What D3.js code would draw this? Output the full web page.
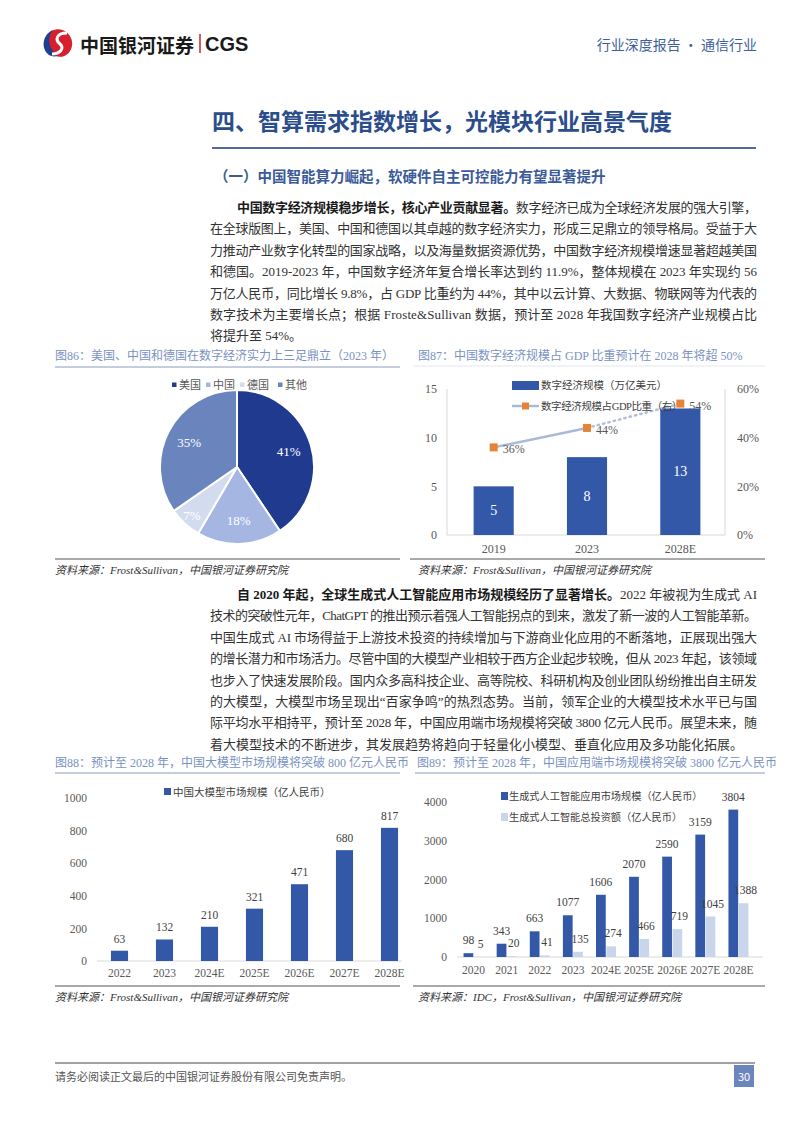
<!DOCTYPE html>
<html><head><meta charset="utf-8">
<script src="https://cdn.jsdelivr.net/npm/d3@7"></script>
<style>body{margin:0;background:#fff}svg{display:block}</style>
</head><body><svg id="page" width="794" height="1123"></svg>
<script>
// ---------- data ----------
const pieCategories = ["美国","中国","德国","其他"];
const pieValues = [41,18,7,35];
const fig87Years = ["2019","2023","2028E"];
const fig87Scale = [5,8,13];
const fig87Share = [36,44,54];
const fig87LeftTicks = [0,5,10,15];
const fig87RightTicks = [0,20,40,60];
const fig88Years = ["2022","2023","2024E","2025E","2026E","2027E","2028E"];
const fig88Values = [63,132,210,321,471,680,817];
const fig88Ticks = [0,200,400,600,800,1000];
const fig89Years = ["2020","2021","2022","2023","2024E","2025E","2026E","2027E","2028E"];
const fig89Market = [98,343,663,1077,1606,2070,2590,3159,3804];
const fig89Invest = [5,20,41,135,274,466,719,1045,1388];
const fig89Ticks = [0,1000,2000,3000,4000];

// ---------- text ----------
const para1 = [
 "**中国数字经济规模稳步增长，核心产业贡献显著。**数字经济已成为全球经济发展的强大引擎，",
 "在全球版图上，美国、中国和德国以其卓越的数字经济实力，形成三足鼎立的领导格局。受益于大",
 "力推动产业数字化转型的国家战略，以及海量数据资源优势，中国数字经济规模增速显著超越美国",
 "和德国。2019-2023 年，中国数字经济年复合增长率达到约 11.9%，整体规模在 2023 年实现约 56",
 "万亿人民币，同比增长 9.8%，占 GDP 比重约为 44%，其中以云计算、大数据、物联网等为代表的",
 "数字技术为主要增长点；根据 Froste&Sullivan 数据，预计至 2028 年我国数字经济产业规模占比",
 "将提升至 54%。"
];
const para2 = [
 "**自 2020 年起，全球生成式人工智能应用市场规模经历了显著增长。**2022 年被视为生成式 AI",
 "技术的突破性元年，ChatGPT 的推出预示着强人工智能拐点的到来，激发了新一波的人工智能革新。",
 "中国生成式 AI 市场得益于上游技术投资的持续增加与下游商业化应用的不断落地，正展现出强大",
 "的增长潜力和市场活力。尽管中国的大模型产业相较于西方企业起步较晚，但从 2023 年起，该领域",
 "也步入了快速发展阶段。国内众多高科技企业、高等院校、科研机构及创业团队纷纷推出自主研发",
 "的大模型，大模型市场呈现出“百家争鸣”的热烈态势。当前，领军企业的大模型技术水平已与国",
 "际平均水平相持平，预计至 2028 年，中国应用端市场规模将突破 3800 亿元人民币。展望未来，随",
 "着大模型技术的不断进步，其发展趋势将趋向于轻量化小模型、垂直化应用及多功能化拓展。"
];

const SANS = "'Noto Sans CJK SC','Noto Sans',sans-serif";
const BODY = "'Liberation Serif','Noto Sans CJK SC',serif";
const DARK = "#3358a8";
const LIGHT = "#c9d5ea";
const svg = d3.select("#page");
svg.append("rect").attr("width",794).attr("height",1123).attr("fill","#fff");

// ---------- header ----------
const logo = svg.append("g");
logo.append("ellipse").attr("cx",59).attr("cy",43).attr("rx",13).attr("ry",14)
  .attr("transform","rotate(-25 59 43)").attr("fill","#d6202e");
logo.append("path").attr("d","M49,55 C40,48 43,34 53,30 C47,37 48,47 57,56 C54,57 51,56 49,55 Z").attr("fill","#1f3f8f");
logo.append("path").attr("d","M67,33 C56,33 55,40 60,44 C65,48 60,54 52,54").attr("fill","none").attr("stroke","#fff").attr("stroke-width",3);
svg.append("text").attr("x",80).attr("y",44).attr("dominant-baseline","central")
  .attr("font-family",SANS).attr("font-weight",700).attr("font-size",19).attr("fill","#1a1a1a").text("中国银河证券");
svg.append("line").attr("x1",200).attr("x2",200).attr("y1",34).attr("y2",53).attr("stroke","#c0282d").attr("stroke-width",1.5);
svg.append("text").attr("x",205).attr("y",44).attr("dominant-baseline","central")
  .attr("font-family","'Liberation Sans',Arial,sans-serif").attr("font-weight",700).attr("font-size",20).attr("fill","#1a1a1a").text("CGS");
svg.append("text").attr("x",757).attr("y",44).attr("text-anchor","end").attr("dominant-baseline","central")
  .attr("font-family",SANS).attr("font-size",14).attr("fill","#3d5f9c").text("行业深度报告 · 通信行业");

// ---------- titles ----------
svg.append("text").attr("x",212).attr("y",120).attr("dominant-baseline","central")
  .attr("font-family",SANS).attr("font-weight",700).attr("font-size",23).attr("fill","#2b4d8c").text("四、智算需求指数增长，光模块行业高景气度");
svg.append("line").attr("x1",212).attr("x2",756).attr("y1",148).attr("y2",148).attr("stroke","#51699b").attr("stroke-width",2);
svg.append("text").attr("x",214).attr("y",175).attr("dominant-baseline","central")
  .attr("font-family",SANS).attr("font-weight",700).attr("font-size",14.5).attr("fill","#3a5a98").text("（一）中国智能算力崛起，软硬件自主可控能力有望显著提升");

function paragraph(lines, x0, xIndent, xRight, y0, lh){
  lines.forEach((ln,i)=>{
    const x = i===0 ? xIndent : x0;
    const t = svg.append("text").attr("x",x).attr("y",y0+i*lh).attr("dominant-baseline","central")
      .attr("font-family",BODY).attr("font-size",13).attr("fill","#333");
    const parts = ln.split("**");
    let n = 0;
    parts.forEach((p,k)=>{ if(!p) return; n += [...p].length;
      t.append("tspan").attr("font-weight", k%2===1?700:400).attr("fill",k%2===1?"#1a1a1a":"#333").text(p); });
    if (i < lines.length-1){
      const w = t.node().getComputedTextLength();
      t.attr("letter-spacing", (xRight - x - w)/(n-1));
    }
  });
}
paragraph(para1, 210, 237, 757, 207, 21.4);
paragraph(para2, 210, 237, 757, 594, 21.4);

// ---------- helpers ----------
function figTitle(x, y, text){
  svg.append("text").attr("x",x).attr("y",y).attr("dominant-baseline","central")
    .attr("font-family",BODY).attr("font-size",12).attr("fill","#7a92c2").text(text);
}
function source(x, y, text){
  svg.append("text").attr("x",x).attr("y",y).attr("dominant-baseline","central")
    .attr("font-family",BODY).attr("font-style","italic").attr("font-size",11).attr("fill","#333").text(text);
}
function hline(x1,x2,y,color,w){
  svg.append("line").attr("x1",x1).attr("x2",x2).attr("y1",y).attr("y2",y).attr("stroke",color).attr("stroke-width",w||1);
}
const fmt = d3.format("d");

// ---------- fig 86 pie ----------
figTitle(55, 356, "图86：美国、中国和德国在数字经济实力上三足鼎立（2023 年）");
hline(55, 400, 367, "#8a9bbd", 1);
const pieColors = ["#1f3a8f","#a4b6e1","#d3dcef","#6a84bd"];
const legG = svg.append("g").attr("font-family",BODY).attr("font-size",11).attr("fill","#595959");
const legX = [172, 206, 240, 278];
pieCategories.forEach((c,i)=>{
  legG.append("rect").attr("x",legX[i]).attr("y",382.5).attr("width",4.5).attr("height",4.5).attr("fill",pieColors[i]);
  legG.append("text").attr("x",legX[i]+7).attr("y",385).attr("dominant-baseline","central").text(c);
});
const R = 77;
const pieG = svg.append("g").attr("transform","translate(237,467)");
const pieData = d3.pie().sort(null).value(d=>d)(pieValues);
const arc = d3.arc().innerRadius(0).outerRadius(R);
pieG.selectAll("path").data(pieData).join("path").attr("d",arc)
  .attr("fill",(d,i)=>pieColors[i]).attr("stroke","#fff").attr("stroke-width",2);
pieG.selectAll("text").data(pieData).join("text")
  .attr("transform",d=>{ const r = d.data<10 ? R*0.86 : R*0.7; const a=(d.startAngle+d.endAngle)/2;
     return `translate(${Math.sin(a)*r},${-Math.cos(a)*r})`; })
  .attr("text-anchor","middle").attr("dominant-baseline","central")
  .attr("font-family",BODY).attr("font-size",13).attr("fill","#fff").text(d=>d.data+"%");
hline(55, 400, 559, "#555", 1);
source(55, 570, "资料来源：Frost&Sullivan，中国银河证券研究院");

// ---------- fig 87 ----------
figTitle(418, 356, "图87：中国数字经济规模占 GDP 比重预计在 2028 年将超 50%");
hline(413, 765, 366, "#e3e7ef", 1);
const x87 = d3.scaleBand().domain(fig87Years).range([447,727]).paddingInner(0.57).paddingOuter(0.285);
const y87 = d3.scaleLinear().domain([0,15]).range([535,389]);
const y87r = d3.scaleLinear().domain([0,60]).range([535,389]);
const g87 = svg.append("g").attr("font-family",BODY);
g87.append("line").attr("x1",447).attr("x2",447).attr("y1",389).attr("y2",535).attr("stroke","#d9d9d9");
g87.append("line").attr("x1",725).attr("x2",725).attr("y1",389).attr("y2",535).attr("stroke","#d9d9d9");
g87.append("line").attr("x1",447).attr("x2",725).attr("y1",535).attr("y2",535).attr("stroke","#d9d9d9");
const ax87l = g87.append("g").attr("transform","translate(447,0)").call(d3.axisLeft(y87).tickValues(fig87LeftTicks).tickFormat(fmt).tickSize(0).tickPadding(10));
const ax87r = g87.append("g").attr("transform","translate(725,0)").call(d3.axisRight(y87r).tickValues(fig87RightTicks).tickFormat(d=>d+"%").tickSize(0).tickPadding(12));
const ax87b = g87.append("g").attr("transform","translate(0,535)").call(d3.axisBottom(x87).tickSize(0).tickPadding(9));
[ax87l,ax87r,ax87b].forEach(a=>{ a.select(".domain").remove(); a.selectAll("text").attr("font-family",BODY).attr("font-size",12).attr("fill","#595959"); });
g87.selectAll("rect.bar").data(fig87Scale).join("rect").attr("class","bar")
  .attr("x",(d,i)=>x87(fig87Years[i])).attr("width",x87.bandwidth())
  .attr("y",d=>y87(d)).attr("height",d=>y87(0)-y87(d)).attr("fill",DARK);
g87.selectAll("text.bv").data(fig87Scale).join("text").attr("class","bv")
  .attr("x",(d,i)=>x87(fig87Years[i])+x87.bandwidth()/2).attr("y",d=>(y87(d)+y87(0))/2)
  .attr("text-anchor","middle").attr("dominant-baseline","central").attr("font-size",14).attr("fill","#fff").text(d=>d);
const pts87 = fig87Share.map((d,i)=>[x87(fig87Years[i])+x87.bandwidth()/2, y87r(d)]);
const line = d3.line();
g87.append("path").attr("d",line(pts87.slice(0,2))).attr("fill","none").attr("stroke","#a9b9d8").attr("stroke-width",2.5);
g87.append("path").attr("d",line(pts87.slice(1,3))).attr("fill","none").attr("stroke","#b4bfd6").attr("stroke-width",2.5).attr("stroke-dasharray","1.5 4").attr("stroke-linecap","round");
// legend
g87.append("rect").attr("x",512).attr("y",381).attr("width",27).attr("height",9).attr("fill",DARK);
g87.append("text").attr("x",541).attr("y",385).attr("dominant-baseline","central").attr("font-size",10.5).attr("fill","#404040").text("数字经济规模（万亿美元）");
g87.append("line").attr("x1",512).attr("x2",539).attr("y1",406).attr("y2",406).attr("stroke","#a9b9d8").attr("stroke-width",2.5);
g87.append("rect").attr("x",522).attr("y",402.5).attr("width",7).attr("height",7).attr("fill","#e58338");
g87.append("text").attr("x",541).attr("y",406).attr("dominant-baseline","central").attr("font-size",10.5)
  .attr("letter-spacing",-0.4).attr("fill","#404040").text("数字经济规模占GDP比重（右）");
g87.selectAll("rect.pt").data(pts87).join("rect").attr("class","pt")
  .attr("x",d=>d[0]-4).attr("y",d=>d[1]-4).attr("width",8).attr("height",8).attr("fill","#e58338");
g87.selectAll("text.pl").data(fig87Share).join("text").attr("class","pl")
  .attr("x",(d,i)=>pts87[i][0]+9).attr("y",(d,i)=>pts87[i][1]+2).attr("dominant-baseline","central")
  .attr("font-size",12).attr("fill","#595959").text(d=>d+"%");
hline(410, 765, 559, "#555", 1);
source(418, 570, "资料来源：Frost&Sullivan，中国银河证券研究院");

// ---------- fig 88 ----------
figTitle(55, 763, "图88：预计至 2028 年，中国大模型市场规模将突破 800 亿元人民币");
hline(55, 400, 773, "#8a9bbd", 1);
const x88 = d3.scaleBand().domain(fig88Years).range([97,412]).paddingInner(0.62).paddingOuter(0.31);
const y88 = d3.scaleLinear().domain([0,1000]).range([961,798]);
const g88 = svg.append("g").attr("font-family",BODY);
g88.append("line").attr("x1",97).attr("x2",402).attr("y1",961).attr("y2",961).attr("stroke","#d9d9d9");
const ax88l = g88.append("g").attr("transform","translate(97,0)").call(d3.axisLeft(y88).tickValues(fig88Ticks).tickFormat(fmt).tickSize(0).tickPadding(10));
const ax88b = g88.append("g").attr("transform","translate(0,961)").call(d3.axisBottom(x88).tickSize(0).tickPadding(8));
[ax88l,ax88b].forEach(a=>{ a.select(".domain").remove(); a.selectAll("text").attr("font-family",BODY).attr("font-size",11.5).attr("fill","#595959"); });
g88.selectAll("rect.bar").data(fig88Values).join("rect").attr("class","bar")
  .attr("x",(d,i)=>x88(fig88Years[i])).attr("width",x88.bandwidth())
  .attr("y",d=>y88(d)).attr("height",d=>y88(0)-y88(d)).attr("fill",DARK);
g88.selectAll("text.bv").data(fig88Values).join("text").attr("class","bv")
  .attr("x",(d,i)=>x88(fig88Years[i])+x88.bandwidth()/2).attr("y",d=>y88(d)-12)
  .attr("text-anchor","middle").attr("dominant-baseline","central").attr("font-size",11.5).attr("fill","#404040").text(d=>d);
g88.append("rect").attr("x",164).attr("y",788).attr("width",7).attr("height",7).attr("fill",DARK);
g88.append("text").attr("x",173).attr("y",792).attr("dominant-baseline","central").attr("font-size",10.5).attr("fill","#404040").text("中国大模型市场规模（亿人民币）");
hline(55, 400, 986, "#555", 1);
source(55, 997, "资料来源：Frost&Sullivan，中国银河证券研究院");

// ---------- fig 89 ----------
figTitle(417, 763, "图89：预计至 2028 年，中国应用端市场规模将突破 3800 亿元人民币");
hline(415, 765, 773, "#8a9bbd", 1);
const x89 = d3.scaleBand().domain(fig89Years).range([457,755]).padding(0);
const sub = d3.scaleBand().domain(["m","i"]).range([x89.bandwidth()/2-10, x89.bandwidth()/2+10]).paddingInner(0.05);
const y89 = d3.scaleLinear().domain([0,4000]).range([957,802]);
const g89 = svg.append("g").attr("font-family",BODY);
g89.append("line").attr("x1",457).attr("x2",763).attr("y1",957).attr("y2",957).attr("stroke","#d9d9d9");
const ax89l = g89.append("g").attr("transform","translate(457,0)").call(d3.axisLeft(y89).tickValues(fig89Ticks).tickFormat(fmt).tickSize(0).tickPadding(10));
const ax89b = g89.append("g").attr("transform","translate(0,957)").call(d3.axisBottom(x89).tickSize(0).tickPadding(9));
[ax89l,ax89b].forEach(a=>{ a.select(".domain").remove(); a.selectAll("text").attr("font-family",BODY).attr("font-size",11.5).attr("fill","#595959"); });
const series89 = [{k:"m",vals:fig89Market,color:DARK},{k:"i",vals:fig89Invest,color:LIGHT}];
series89.forEach(s=>{
  g89.selectAll("rect.b"+s.k).data(s.vals).join("rect").attr("class","b"+s.k)
    .attr("x",(d,i)=>x89(fig89Years[i])+sub(s.k)).attr("width",sub.bandwidth())
    .attr("y",d=>y89(d)).attr("height",d=>y89(0)-y89(d)).attr("fill",s.color);
  g89.selectAll("text.v"+s.k).data(s.vals).join("text").attr("class","v"+s.k)
    .attr("x",(d,i)=>x89(fig89Years[i])+sub(s.k)+sub.bandwidth()/2 + (s.k==="i"?2:0)).attr("y",d=>y89(d)-13)
    .attr("text-anchor","middle").attr("dominant-baseline","central").attr("font-size",11.5).attr("fill","#404040").text(d=>d);
});
g89.append("rect").attr("x",501).attr("y",792).attr("width",7).attr("height",8).attr("fill",DARK);
g89.append("text").attr("x",509).attr("y",796).attr("dominant-baseline","central").attr("font-size",10.2).attr("fill","#404040").text("生成式人工智能应用市场规模（亿人民币）");
g89.append("rect").attr("x",501).attr("y",813).attr("width",7).attr("height",8).attr("fill",LIGHT);
g89.append("text").attr("x",509).attr("y",817).attr("dominant-baseline","central").attr("font-size",10.2).attr("fill","#404040").text("生成式人工智能总投资额（亿人民币）");
hline(413, 765, 986, "#555", 1);
source(418, 997, "资料来源：IDC，Frost&Sullivan，中国银河证券研究院");

// ---------- footer ----------
hline(55, 755, 1063, "#444", 1);
svg.append("text").attr("x",55).attr("y",1076).attr("dominant-baseline","central")
  .attr("font-family",SANS).attr("font-size",11).attr("fill","#555").text("请务必阅读正文最后的中国银河证券股份有限公司免责声明。");
svg.append("rect").attr("x",734).attr("y",1065).attr("width",20).attr("height",22).attr("fill","#6b86bd");
svg.append("text").attr("x",744).attr("y",1076).attr("text-anchor","middle").attr("dominant-baseline","central")
  .attr("font-family",SANS).attr("font-size",11).attr("fill","#fff").text("30");
</script></body></html>
